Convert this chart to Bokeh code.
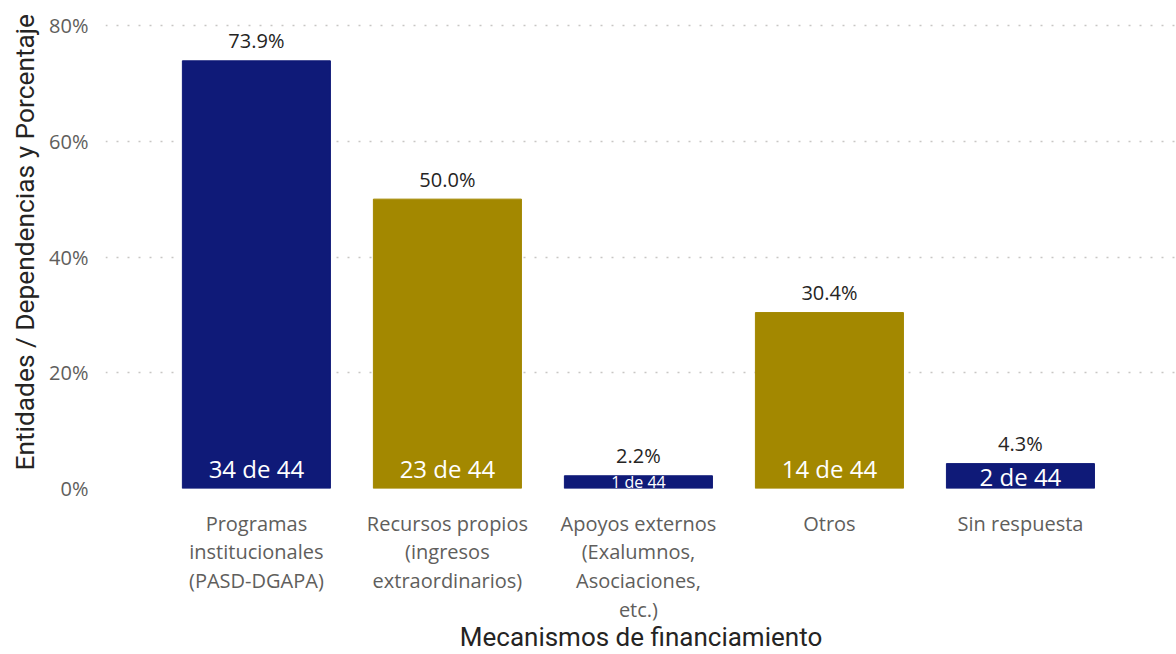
from bokeh.plotting import figure
from bokeh.models import ColumnDataSource, FixedTicker, NumeralTickFormatter, LabelSet, Title
from bokeh.core.properties import field, value
from bokeh.embed import file_html
from bokeh.resources import INLINE

categories = [
    "Programas\ninstitucionales\n(PASD-DGAPA)",
    "Recursos propios\n(ingresos\nextraordinarios)",
    "Apoyos externos\n(Exalumnos,\nAsociaciones,\netc.)",
    "Otros",
    "Sin respuesta",
]
percentages = [0.739, 0.500, 0.022, 0.304, 0.043]
pct_labels = ["73.9%", "50.0%", "2.2%", "30.4%", "4.3%"]
count_labels = ["34 de 44", "23 de 44", "1 de 44", "14 de 44", "2 de 44"]
bar_colors = ["#0F1A78", "#A38800", "#0F1A78", "#A38800", "#0F1A78"]
y_ticks = [0, 0.2, 0.4, 0.6, 0.8]
x_title = "Mecanismos de financiamiento"
y_title = "Entidades / Dependencias y Porcentaje"

# layout constants (screen px)
FIG_W, FIG_H = 1176, 654
BORDER_TOP, BORDER_LEFT, BORDER_BOTTOM = 19, 105, 166
FRAME_H = FIG_H - BORDER_TOP - BORDER_BOTTOM
Y_END = 0.8104
PX_PER_UNIT = FRAME_H / Y_END

xs = list(range(len(categories)))
bar_px = [v * PX_PER_UNIT for v in percentages]
cnt_off = [min(20, h / 2) for h in bar_px]
cnt_size = ["24px" if h >= 20 else "16px" for h in bar_px]

src = ColumnDataSource(dict(x=xs, top=percentages, color=bar_colors,
                            pct=pct_labels, cnt=count_labels, csize=cnt_size,
                            coff=cnt_off, zero=[0] * len(xs)))

p = figure(width=FIG_W, height=FIG_H, output_backend="svg", toolbar_location=None,
           x_range=(-0.79, 4.817), y_range=(0, Y_END),
           min_border_left=BORDER_LEFT, min_border_right=0,
           min_border_top=BORDER_TOP, min_border_bottom=BORDER_BOTTOM)
p.outline_line_color = None
p.background_fill_color = "white"
p.border_fill_color = "white"

p.vbar(x="x", top="top", width=0.775, color="color", source=src)

p.add_layout(LabelSet(x="x", y="top", text="pct", source=src, text_align="center",
                      text_baseline="middle", y_offset=20, text_font_size=value("20px"),
                      text_color=value("#252423"), text_font=value("Open Sans")))
p.add_layout(LabelSet(x="x", y="zero", text="cnt", source=src, text_align="center",
                      text_baseline="middle", y_offset=field("coff"),
                      text_font_size=field("csize"),
                      text_color=value("white"), text_font=value("Open Sans")))

p.xgrid.visible = False
p.ygrid.ticker = FixedTicker(ticks=y_ticks)
p.ygrid.grid_line_color = "#C8C6C4"
p.ygrid.grid_line_dash = "2 9"
p.ygrid.grid_line_width = 1.5

p.yaxis.ticker = FixedTicker(ticks=y_ticks)
p.yaxis.formatter = NumeralTickFormatter(format="0%")
p.yaxis.axis_line_color = None
p.yaxis.major_tick_line_color = None
p.yaxis.minor_tick_line_color = None
p.yaxis.major_label_text_font = "Open Sans"
p.yaxis.major_label_text_font_size = "20px"
p.yaxis.major_label_text_color = "#605E5C"
p.yaxis.major_label_standoff = 11

p.add_layout(Title(text=y_title, align="left", offset=18, standoff=14,
                   text_font="Roboto", text_font_style="normal",
                   text_font_size="26.3px", text_color="#252423"), "left")

p.xaxis.ticker = FixedTicker(ticks=xs)
p.xaxis.major_label_overrides = {i: c for i, c in enumerate(categories)}
p.xaxis.axis_line_color = None
p.xaxis.major_tick_line_color = None
p.xaxis.minor_tick_line_color = None
p.xaxis.major_label_text_font = "Open Sans"
p.xaxis.major_label_text_font_size = "20px"
p.xaxis.major_label_text_line_height = 1.065
p.xaxis.major_label_text_color = "#605E5C"
p.xaxis.major_label_standoff = 15
p.xaxis.axis_label = x_title
p.xaxis.axis_label_text_font = "Roboto"
p.xaxis.axis_label_text_font_style = "normal"
p.xaxis.axis_label_text_font_size = "26px"
p.xaxis.axis_label_text_color = "#252423"
p.xaxis.axis_label_standoff = -4

open("out.html", "w").write(file_html(p, INLINE))
